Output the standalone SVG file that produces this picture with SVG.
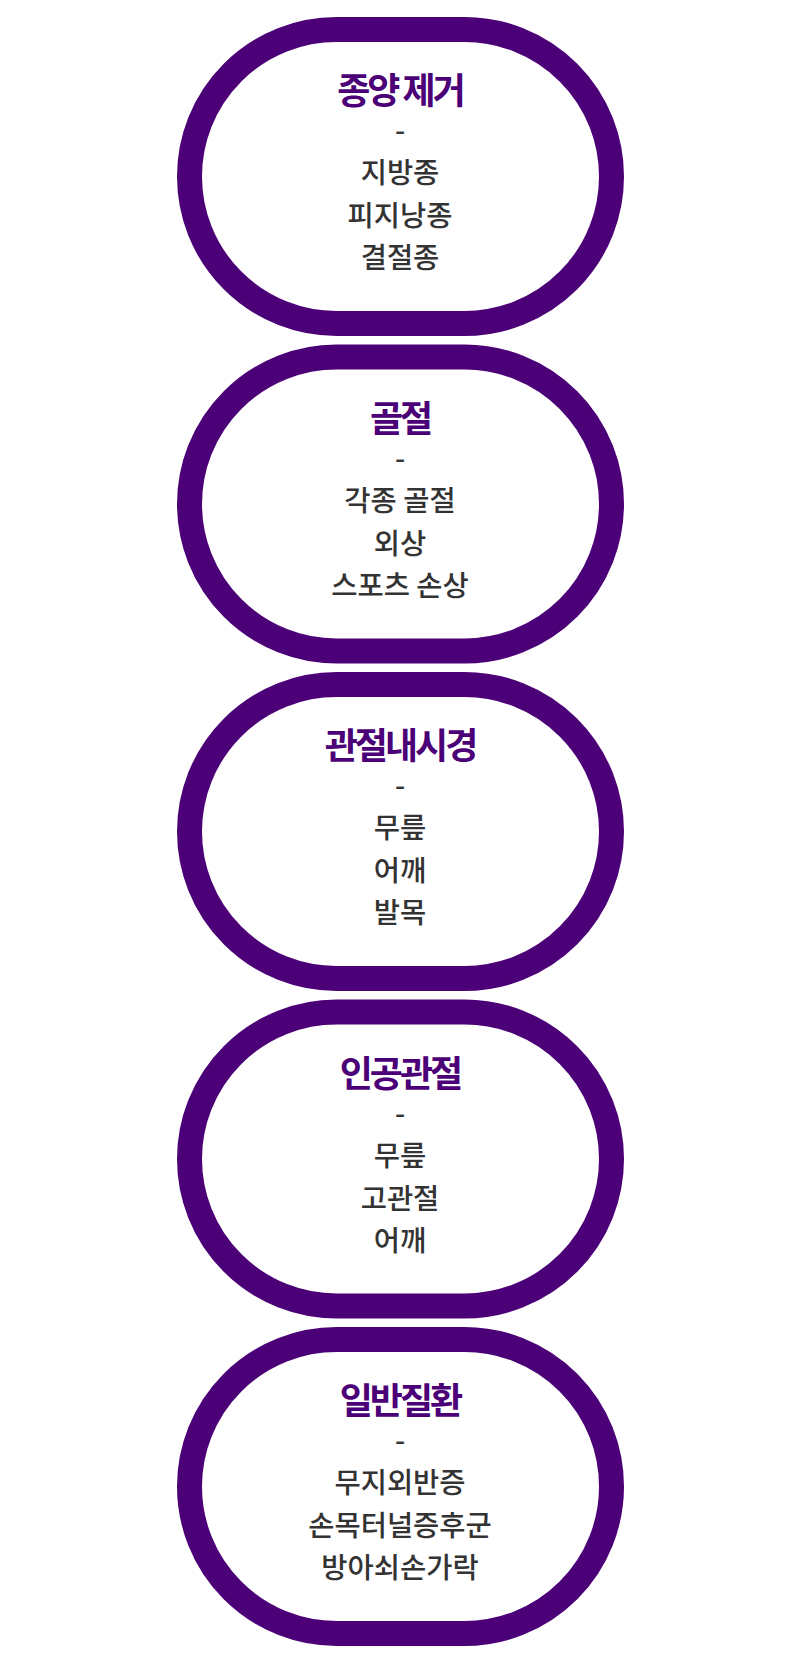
<svg xmlns="http://www.w3.org/2000/svg" width="800" height="1675" viewBox="0 0 800 1675">
<style>
.ring{fill:#ffffff;stroke:#4b0077;stroke-width:25}
.t{font-family:"Noto Sans CJK KR","Noto Sans",sans-serif;font-weight:700;font-size:36px;fill:#4b0077;text-anchor:middle;letter-spacing:-3px}
.b{font-family:"Noto Sans CJK KR","Noto Sans",sans-serif;font-weight:500;font-size:28.5px;fill:#333333;text-anchor:middle}
</style>
<rect width="800" height="1675" fill="#ffffff"/>
<g id="connectors"></g>
<g id="node1">
<rect class="ring" x="189.5" y="29.5" width="422" height="294" rx="147" ry="147"/>
<text class="t" x="400" y="104">종양 제거</text>
<text class="b" x="400" y="141">-</text>
<text class="b" x="400" y="183">지방종</text>
<text class="b" x="400" y="226">피지낭종</text>
<text class="b" x="400" y="268">결절종</text>
</g>
<g id="node2" transform="translate(0,327.5)">
<rect class="ring" x="189.5" y="29.5" width="422" height="294" rx="147" ry="147"/>
<text class="t" x="400" y="104">골절</text>
<text class="b" x="400" y="141">-</text>
<text class="b" x="400" y="183">각종 골절</text>
<text class="b" x="400" y="226">외상</text>
<text class="b" x="400" y="268">스포츠 손상</text>
</g>
<g id="node3" transform="translate(0,655)">
<rect class="ring" x="189.5" y="29.5" width="422" height="294" rx="147" ry="147"/>
<text class="t" x="400" y="104">관절내시경</text>
<text class="b" x="400" y="141">-</text>
<text class="b" x="400" y="183">무릎</text>
<text class="b" x="400" y="226">어깨</text>
<text class="b" x="400" y="268">발목</text>
</g>
<g id="node4" transform="translate(0,982.5)">
<rect class="ring" x="189.5" y="29.5" width="422" height="294" rx="147" ry="147"/>
<text class="t" x="400" y="104">인공관절</text>
<text class="b" x="400" y="141">-</text>
<text class="b" x="400" y="183">무릎</text>
<text class="b" x="400" y="226">고관절</text>
<text class="b" x="400" y="268">어깨</text>
</g>
<g id="node5" transform="translate(0,1310)">
<rect class="ring" x="189.5" y="29.5" width="422" height="294" rx="147" ry="147"/>
<text class="t" x="400" y="104">일반질환</text>
<text class="b" x="400" y="141">-</text>
<text class="b" x="400" y="183">무지외반증</text>
<text class="b" x="400" y="226">손목터널증후군</text>
<text class="b" x="400" y="268">방아쇠손가락</text>
</g>
</svg>
